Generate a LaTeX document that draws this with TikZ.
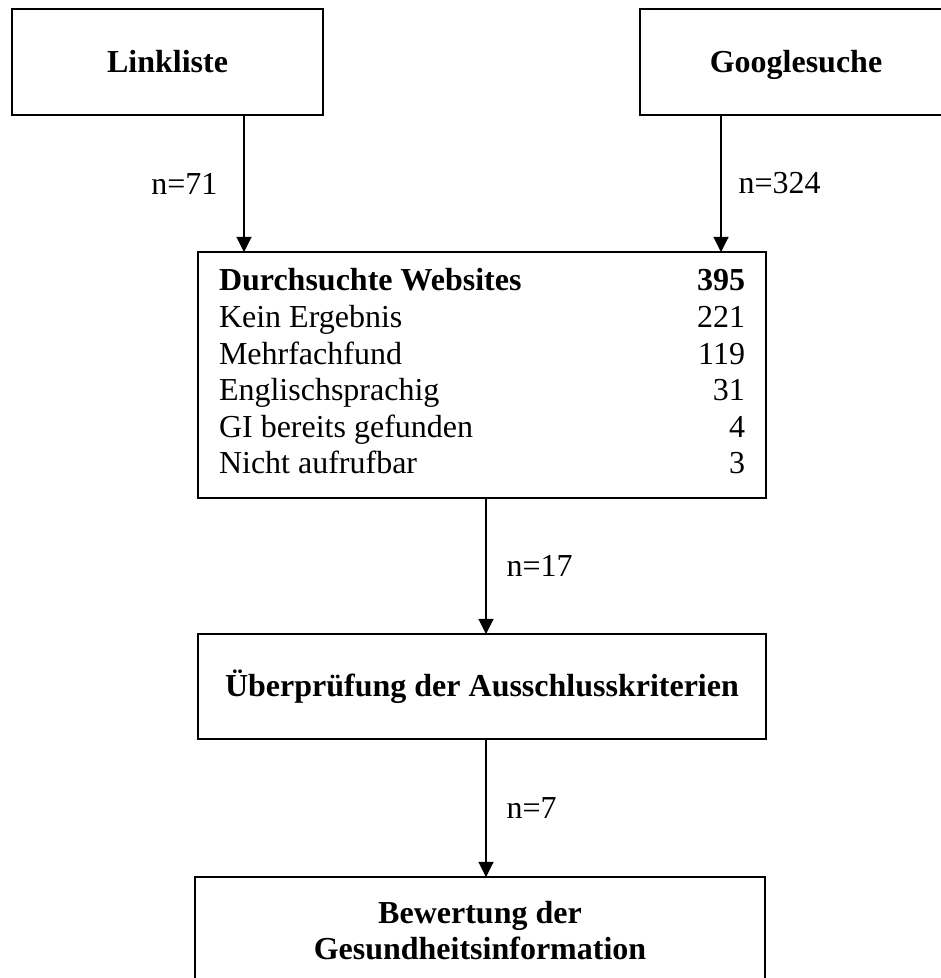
\documentclass[tikz,border=0pt]{standalone}
\usepackage{fontspec}
\setmainfont{Liberation Serif}
\usetikzlibrary{arrows.meta}

\begin{document}
\begin{tikzpicture}[x=1pt,y=1pt,
    box/.style = {rectangle,draw=black,line width=1.6pt,inner sep=0pt,outer sep=0pt,
                  font=\fontsize{32}{36.6}\selectfont\bfseries,align=center},
    source/.style = {box,minimum height=106,text height=21pt,text depth=0pt},
    flow/.style = {draw=black,line width=1.1pt,-{Triangle[length=15pt,width=15pt]}},
    count/.style = {inner sep=0pt,font=\fontsize{32}{36.6}\selectfont}]
\useasboundingbox (0,0) rectangle (941,978);
\clip (0,0) rectangle (941,978);
% sources
\node[source,minimum width=311] (link) at (167.5,916) {Linkliste};
\node[source,minimum width=312] (google) at (796,916) {Googlesuche};
% searched websites
\node[box,minimum width=568,minimum height=246,font=\fontsize{32}{36.6}\selectfont] (sites) at (482,603)
    {\begin{tabular*}{526pt}{@{}l@{\extracolsep{\fill}}r@{}}
     \textbf{Durchsuchte Websites} & \textbf{395}\\
     Kein Ergebnis & 221\\
     Mehrfachfund & 119\\
     Englischsprachig & 31\\
     GI bereits gefunden & 4\\
     Nicht aufrufbar & 3
     \end{tabular*}};
\node[box,minimum width=568,minimum height=105] (check) at (482,291.5) {Überprüfung der Ausschlusskriterien};
\node[box,minimum width=570,minimum height=107] (rating) at (480,47.5) {Bewertung der\\Gesundheitsinformation};
% connectors
\draw[flow] ([xshift=76.5]link.south) -- ([xshift=76.5]link.south |- sites.north)
    node[count,midway,left=26pt] {n=71};
\draw[flow] ([xshift=-75]google.south) -- ([xshift=-75]google.south |- sites.north)
    node[count,midway,right=17pt] {n=324};
\draw[flow] ([xshift=4]sites.south) -- ([xshift=4]sites.south |- check.north)
    node[count,midway,right=20pt] {n=17};
\draw[flow] ([xshift=4]check.south) -- ([xshift=4]check.south |- rating.north)
    node[count,midway,right=20pt] {n=7};
\end{tikzpicture}
\end{document}
